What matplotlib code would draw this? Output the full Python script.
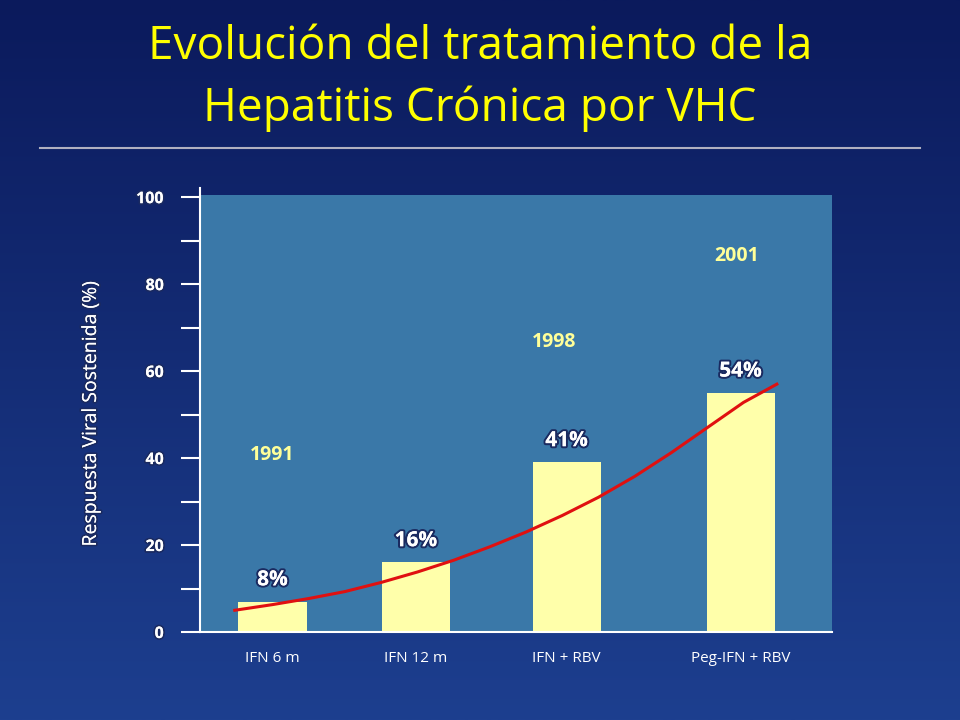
import numpy as np
import matplotlib
matplotlib.use("Agg")
import matplotlib.pyplot as plt
import matplotlib.patheffects as pe
from matplotlib.colors import LinearSegmentedColormap

categories = ["IFN 6 m", "IFN 12 m", "IFN + RBV", "Peg-IFN + RBV"]
values = [7, 16, 39, 55]
pct_labels = ["8%", "16%", "41%", "54%"]
years = ["1991", "1998", "2001"]
year_y = [40.7, 66.7, 86.4]
curve_x = [-0.26, 0.0, 0.25, 0.5, 0.75, 1.0, 1.25, 1.5, 1.75, 2.0, 2.25, 2.5, 2.75, 3.0, 3.25, 3.48]
curve_y = [5.0, 6.3, 7.7, 9.3, 11.4, 13.8, 16.5, 19.6, 23.0, 26.8, 31.0, 35.8, 41.2, 47.0, 52.8, 57.0]

pos = [0, 0.99, 2.03, 3.23]
year_x = [0.0, 1.94, 3.2]

plt.rcParams["font.family"] = "Open Sans"
fig = plt.figure(figsize=(9.6, 7.2), dpi=100)

bg = fig.add_axes([0, 0, 1, 1])
grad = np.linspace(0, 1, 256).reshape(-1, 1)
cmap = LinearSegmentedColormap.from_list("bg", ["#0b1a5c", "#1d3f8f"])
bg.imshow(grad, aspect="auto", cmap=cmap, extent=[0, 1, 0, 1], origin="upper")
bg.set_xlim(0, 1); bg.set_ylim(0, 1); bg.axis("off")
bg.text(0.5, 0.935, "Evolución del tratamiento de la", color="#ffff00", fontsize=33,
        ha="center", va="center")
bg.text(0.5, 0.849, "Hepatitis Crónica por VHC", color="#ffff00", fontsize=33,
        ha="center", va="center")
bg.plot([0.042, 0.958], [0.794, 0.794], color="#b0b0c0", lw=1.5)

ax = fig.add_axes([0.2083, 0.1222, 0.6583, 0.607])
ax.set_facecolor("#3a78a8")
ax.set_xlim(-0.5, 3.86)
ax.set_ylim(0, 100.5)
ax.bar(pos, values, width=0.47, color="#ffffaa", zorder=2)
ax.plot(curve_x, curve_y, color="#e01010", lw=2.2, zorder=3)
for x, v, l in zip(pos, values, pct_labels):
    t = ax.text(x, v + 5, l, color="white", fontsize=15, fontweight="bold",
                ha="center", va="center", zorder=4)
    t.set_path_effects([pe.withStroke(linewidth=3, foreground="#1a2a60"), pe.Normal()])
for x, y, l in zip(year_x, year_y, years):
    ax.text(x, y, l, color="#ffff99", fontsize=14, fontweight="bold", ha="center", va="center")

for s in ["top", "right"]:
    ax.spines[s].set_visible(False)
ax.spines["left"].set_color("white"); ax.spines["bottom"].set_color("white")
ax.spines["left"].set_linewidth(1.5); ax.spines["bottom"].set_linewidth(1.5)
ax.spines["left"].set_bounds(0, 102)
ax.set_yticks([0, 20, 40, 60, 80, 100])
ax.set_yticks([10, 30, 50, 70, 90], minor=True)
ax.tick_params(axis="y", which="both", length=14, width=1.5, color="white",
               labelcolor="white", labelsize=11.5, pad=12)
for lab in ax.get_yticklabels():
    lab.set_fontweight("bold")
    lab.set_path_effects([pe.withStroke(linewidth=2.5, foreground="#1a2a60"), pe.Normal()])
ax.set_xticks(pos)
ax.set_xticklabels(categories)
ax.tick_params(axis="x", length=0, labelcolor="white", labelsize=11, pad=14)
ax.set_ylabel("Respuesta Viral Sostenida (%)", color="white", fontsize=14, labelpad=26)
ax.yaxis.label.set_path_effects([pe.withStroke(linewidth=2.5, foreground="#1a2a60"), pe.Normal()])

fig.savefig("out.png", dpi=100)
